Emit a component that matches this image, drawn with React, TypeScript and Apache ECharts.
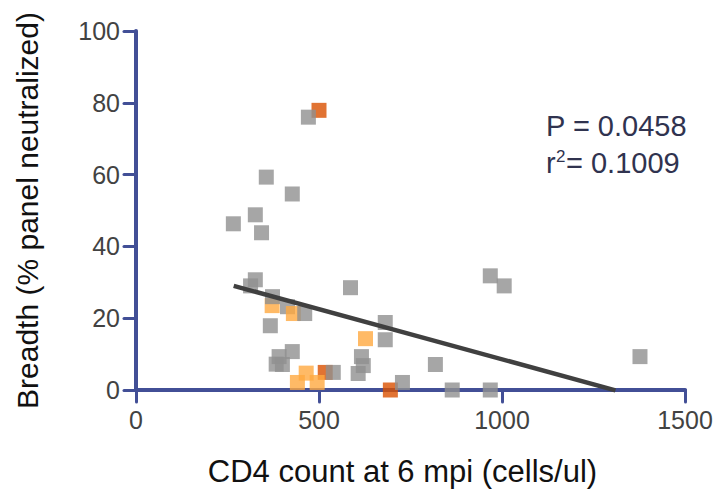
import React, { useEffect, useRef } from "react";
import * as echarts from "echarts";

// Data
const xTicks = [0, 500, 1000, 1500];
const yTicks = [0, 20, 40, 60, 80, 100];

const grayBackX = [414];
const grayBackY = [23.2];

const darkOrangeX = [500, 517, 695];
const darkOrangeY = [77.9, 4.9, 0];

const lightOrangeX = [372, 430, 465, 441, 495, 627];
const lightOrangeY = [23.5, 21.3, 4.7, 2.1, 2.1, 14.3];

const grayX = [471, 356, 427, 326, 266, 343, 326, 313, 373, 461, 367, 427, 391, 383, 400, 539, 586, 681, 681, 616, 621, 607, 818, 728, 864, 968, 1006, 1377, 968];
const grayY = [76, 59.3, 54.6, 48.8, 46.3, 43.8, 30.7, 29, 26, 21.3, 17.9, 10.7, 9.3, 7.2, 7.1, 4.9, 28.5, 18.8, 14, 9.3, 6.8, 4.6, 7.1, 2.1, 0, 31.8, 29, 9.3, 0];

const fitX = [267, 1310];
const fitY = [29, -0.1];

const pText = "P = 0.0458";
const r2Value = "= 0.1009";

const zip = (xs: number[], ys: number[]) => xs.map((x, i) => [x, ys[i]]);

const FONT = "'Liberation Sans', Arial, sans-serif";
const AXIS_COLOR = "#424f96";

export default function App() {
  const ref = useRef<HTMLDivElement>(null);
  useEffect(() => {
    if (!ref.current) return;
    const chart = echarts.init(ref.current, null, { renderer: "svg" });
    const scatterBase = {
      type: "scatter" as const,
      symbol: "rect",
      symbolSize: 15,
      clip: false,
    };
    chart.setOption({
      animation: false,
      backgroundColor: "#ffffff",
      grid: { left: 136, right: 35, top: 31, bottom: 101 },
      xAxis: {
        type: "value",
        min: xTicks[0],
        max: xTicks[xTicks.length - 1],
        interval: 500,
        name: "CD4 count at 6 mpi (cells/ul)",
        nameLocation: "middle",
        nameGap: 66,
        nameTextStyle: { fontFamily: FONT, fontSize: 31, color: "#111111", padding: [0, 16, 0, 0] },
        axisLine: { show: true, onZero: false, lineStyle: { color: AXIS_COLOR, width: 4, cap: "round" } },
        axisTick: { show: true, inside: false, length: 12, lineStyle: { color: AXIS_COLOR, width: 3, cap: "round" } },
        axisLabel: { fontFamily: FONT, fontSize: 25, color: "#424242", margin: 17, formatter: (v: number) => String(v) },
        splitLine: { show: false },
      },
      yAxis: {
        type: "value",
        min: yTicks[0],
        max: yTicks[yTicks.length - 1],
        interval: 20,
        name: "Breadth (% panel neutralized)",
        nameLocation: "middle",
        nameGap: 94,
        nameTextStyle: { fontFamily: FONT, fontSize: 30, color: "#111111" },
        axisLine: { show: true, onZero: false, lineStyle: { color: AXIS_COLOR, width: 4, cap: "round" } },
        axisTick: { show: true, inside: false, length: 12, lineStyle: { color: AXIS_COLOR, width: 3, cap: "round" } },
        axisLabel: { fontFamily: FONT, fontSize: 25, color: "#424242", margin: 16, formatter: (v: number) => String(v) },
        splitLine: { show: false },
      },
      series: [
        { ...scatterBase, name: "grayBack", data: zip(grayBackX, grayBackY), itemStyle: { color: "#909090" } },
        { ...scatterBase, name: "darkOrange", data: zip(darkOrangeX, darkOrangeY), itemStyle: { color: "#d95000" } },
        { ...scatterBase, name: "lightOrange", data: zip(lightOrangeX, lightOrangeY), itemStyle: { color: "#ffa940" } },
        { ...scatterBase, name: "gray", data: zip(grayX, grayY), itemStyle: { color: "#909090" } },
        {
          type: "line",
          name: "fit",
          data: zip(fitX, fitY),
          symbol: "none",
          clip: false,
          lineStyle: { color: "#404040", width: 4.5 },
          z: 5,
        },
      ],
      graphic: [
        {
          type: "text",
          left: 546,
          top: 111,
          style: { text: pText, font: `29px ${FONT}`, fill: "#30334f" },
        },
        {
          type: "text",
          left: 546,
          top: 148,
          style: { text: "r", font: `29px ${FONT}`, fill: "#30334f" },
        },
        {
          type: "text",
          left: 556,
          top: 148,
          style: { text: "2", font: `17px ${FONT}`, fill: "#30334f" },
        },
        {
          type: "text",
          left: 566,
          top: 148,
          style: { text: r2Value, font: `29px ${FONT}`, fill: "#30334f" },
        },
      ],
    });
    return () => chart.dispose();
  }, []);
  return <div ref={ref} style={{ width: 720, height: 492, position: "absolute", left: 0, top: 0 }} />;
}
